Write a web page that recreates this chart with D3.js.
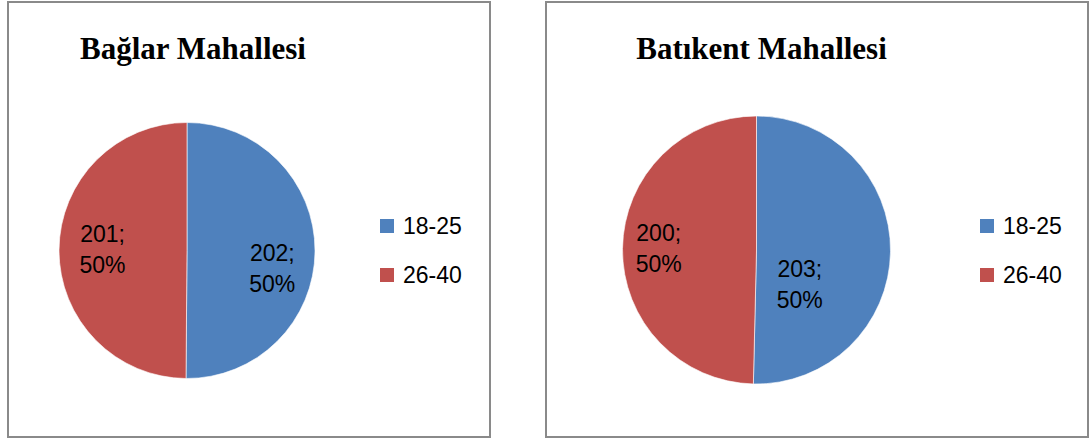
<!DOCTYPE html>
<html>
<head>
<meta charset="utf-8">
<script src="https://cdn.jsdelivr.net/npm/d3@7"></script>
<style>
  html, body { margin: 0; padding: 0; background: #ffffff; }
  svg { display: block; }
</style>
</head>
<body>
<svg id="chart" width="1090" height="440"></svg>
<script>
// ---- data ----
const chartTitles = ["Bağlar Mahallesi", "Batıkent Mahallesi"];
const categories = ["18-25", "26-40"];
const baglarValues = [202, 201];
const batikentValues = [203, 200];
const seriesValues = [baglarValues, batikentValues];

// ---- layout / style ----
const colors = ["#4F81BD", "#C0504D"];
const panels = [
  { box: [8, 2, 482, 435], cx: 187, cy: 250.5, r: 128, titleX: 193, legendX: 380,
    labelPolar: [[101.6, 0.68], [271, 0.66]] },
  { box: [546, 2, 542, 435], cx: 756.5, cy: 250, r: 134, titleX: 761.5, legendX: 980,
    labelPolar: [[128, 0.41], [271, 0.73]] }
];
const titleBaseline = 59;
const legendY0 = 219, legendStep = 49, legendSq = 14;
const labelFont = "'Liberation Sans', Arial, sans-serif";
const titleFont = "'Liberation Serif', 'Times New Roman', serif";

const svg = d3.select("#chart");
const pct = d3.format(".0%");

panels.forEach((p, i) => {
  const values = seriesValues[i];
  const total = d3.sum(values);
  const g = svg.append("g");

  // frame
  g.append("rect")
    .attr("x", p.box[0]).attr("y", p.box[1])
    .attr("width", p.box[2]).attr("height", p.box[3])
    .attr("fill", "#fff").attr("stroke", "#8a8a8a").attr("stroke-width", 2);

  // title
  g.append("text")
    .attr("x", p.titleX).attr("y", titleBaseline)
    .attr("text-anchor", "middle")
    .style("font-family", titleFont).style("font-weight", "bold").style("font-size", "31px")
    .attr("fill", "#000")
    .text(chartTitles[i]);

  // pie
  const pie = d3.pie().sort(null).value(d => d)(values);
  const arc = d3.arc().innerRadius(0).outerRadius(p.r);
  const pg = g.append("g").attr("transform", `translate(${p.cx},${p.cy})`);
  pg.selectAll("path.slice").data(pie).join("path")
    .attr("class", "slice")
    .attr("d", arc)
    .attr("fill", (d, j) => colors[j])
    .attr("stroke", "#ffffff").attr("stroke-width", 0.6);

  // data labels
  pie.forEach((d, j) => {
    const [angDeg, frac] = p.labelPolar[j];
    const a = angDeg * Math.PI / 180;
    const x = Math.sin(a) * p.r * frac;
    const y = -Math.cos(a) * p.r * frac;
    const t = pg.append("text")
      .attr("text-anchor", "middle")
      .style("font-family", labelFont).style("font-size", "23px")
      .attr("fill", "#000");
    t.append("tspan").attr("x", x).attr("y", y - 7).text(values[j] + ";");
    t.append("tspan").attr("x", x).attr("y", y + 24).text(pct(values[j] / total));
  });

  // legend
  categories.forEach((c, j) => {
    const y = legendY0 + j * legendStep;
    g.append("rect")
      .attr("x", p.legendX).attr("y", y)
      .attr("width", legendSq).attr("height", legendSq)
      .attr("fill", colors[j]);
    g.append("text")
      .attr("x", p.legendX + 23).attr("y", y + legendSq / 2 + 8)
      .style("font-family", labelFont).style("font-size", "23px")
      .attr("fill", "#000")
      .text(c);
  });
});
</script>
</body>
</html>
